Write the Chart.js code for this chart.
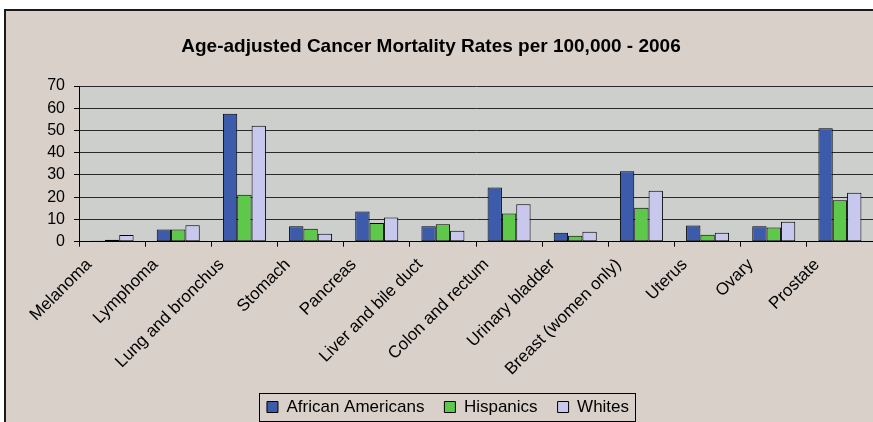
<!DOCTYPE html>
<html>
<head>
<meta charset="utf-8">
<title>Cancer Mortality Rates 2006</title>
<script src="https://cdn.jsdelivr.net/npm/chart.js@4.4.1/dist/chart.umd.min.js"></script>
<style>
    html, body { margin: 0; padding: 0; background: #fff; overflow: hidden; width: 873px; height: 422px; }
    canvas { display: block; }
</style>
</head>
<body>
<canvas id="mortalityChart" width="890" height="422"></canvas>
<script>
// Age-adjusted mortality per 100,000, by cancer site and group (2006)
const sites = [
    'Melanoma', 'Lymphoma', 'Lung and bronchus', 'Stomach', 'Pancreas',
    'Liver and bile duct', 'Colon and rectum', 'Urinary bladder',
    'Breast (women only)', 'Uterus', 'Ovary', 'Prostate'
];
const africanAmericans = [0.4, 5.5, 57.5, 7.0, 13.6, 7.0, 24.4, 4.0, 31.7, 7.3, 7.0, 51.0];
const hispanics        = [0.9, 5.5, 21.1, 5.8, 8.4, 7.9, 12.7, 2.7, 15.3, 3.1, 6.4, 18.6];
const whites           = [3.0, 7.4, 52.1, 3.6, 10.9, 4.9, 16.8, 4.5, 22.9, 4.0, 9.0, 22.0];
const yTicks = [0, 10, 20, 30, 40, 50, 60, 70];

const chartTitle = 'Age-adjusted Cancer Mortality Rates per 100,000 - 2006';
const FONT = '"Liberation Sans", Arial, Helvetica, sans-serif';

// Frame, plot background and title, drawn around the library's own layout
const framePlugin = {
    id: 'frame',
    beforeDraw(chart) {
        const { ctx, chartArea } = chart;
        ctx.save();
        ctx.fillStyle = '#ffffff';
        ctx.fillRect(0, 0, chart.width, chart.height);
        ctx.fillStyle = '#d9d0c9';
        ctx.fillRect(5, 10, chart.width, chart.height);

        // only the left and top edges of the outer frame are in view
        ctx.strokeStyle = '#1a1a1a';
        ctx.lineWidth = 2;
        ctx.beginPath();
        ctx.moveTo(5, chart.height);
        ctx.lineTo(5, 10);
        ctx.lineTo(chart.width, 10);
        ctx.stroke();

        ctx.fillStyle = '#cdcfcc';
        ctx.fillRect(chartArea.left, chartArea.top,
            chartArea.right - chartArea.left, chartArea.bottom - chartArea.top);
        ctx.restore();
    },
    afterDraw(chart) {
        const ctx = chart.ctx;
        ctx.save();
        ctx.fillStyle = '#000';
        ctx.font = 'bold 19px ' + FONT;
        ctx.textAlign = 'center';
        ctx.textBaseline = 'alphabetic';
        ctx.fillText(chartTitle, 431, 52);

        // box around the legend items
        const boxes = chart.legend.legendHitBoxes;
        if (boxes && boxes.length) {
            const first = boxes[0];
            const last = boxes[boxes.length - 1];
            const left = first.left - 8;
            const right = last.left + last.width + 6;
            const top = first.top - 5.5;
            ctx.strokeStyle = '#000';
            ctx.lineWidth = 1;
            ctx.strokeRect(Math.round(left) + 0.5, Math.round(top) + 0.5,
                Math.round(right - left), 28);
        }
        ctx.restore();
    }
};

const PAD_LEFT = 23;
const PAD_RIGHT = 17;   // canvas is 890 wide, plot ends near x = 873

new Chart(document.getElementById('mortalityChart'), {
    type: 'bar',
    data: {
        labels: sites,
        datasets: [
            { label: 'African Americans', data: africanAmericans, backgroundColor: '#3c5cab' },
            { label: 'Hispanics', data: hispanics, backgroundColor: '#5ec84a' },
            { label: 'Whites', data: whites, backgroundColor: '#c8c8ee' }
        ].map(ds => Object.assign(ds, {
            borderColor: '#000',
            borderWidth: 1,
            borderSkipped: false,
            barPercentage: 1.0,
            categoryPercentage: 0.65
        }))
    },
    options: {
        responsive: false,
        animation: false,
        devicePixelRatio: 1,
        layout: { padding: { left: PAD_LEFT, right: PAD_RIGHT, top: 86, bottom: -3.5 } },
        plugins: {
            title: { display: false },
            tooltip: { enabled: false },
            legend: {
                position: 'bottom',
                labels: {
                    color: '#000',
                    font: { family: FONT, size: 17 },
                    boxWidth: 11,
                    boxHeight: 11,
                    padding: 20
                }
            }
        },
        scales: {
            x: {
                offset: true,
                grid: {
                    offset: true,
                    drawOnChartArea: false,
                    drawTicks: true,
                    tickLength: 5,
                    tickColor: '#000'
                },
                border: { color: '#000', width: 1 },
                ticks: {
                    autoSkip: false,
                    minRotation: 45,
                    maxRotation: 45,
                    color: '#000',
                    padding: 8,
                    labelOffset: -23,
                    font: { family: FONT, size: 17 }
                },
                afterFit(scale) { scale.height = 136.8; }
            },
            y: {
                min: 0,
                max: 70,
                afterBuildTicks(scale) { scale.ticks = yTicks.map(v => ({ value: v })); },
                grid: {
                    color: '#2a2a2a',
                    lineWidth: 1,
                    tickLength: 5,
                    tickColor: '#000'
                },
                border: { color: '#000', width: 1 },
                ticks: {
                    color: '#000',
                    padding: 9,
                    font: { family: FONT, size: 16 }
                },
                afterFit(scale) { scale.width = 79 - PAD_LEFT; }
            }
        }
    },
    plugins: [framePlugin]
});
</script>
</body>
</html>
